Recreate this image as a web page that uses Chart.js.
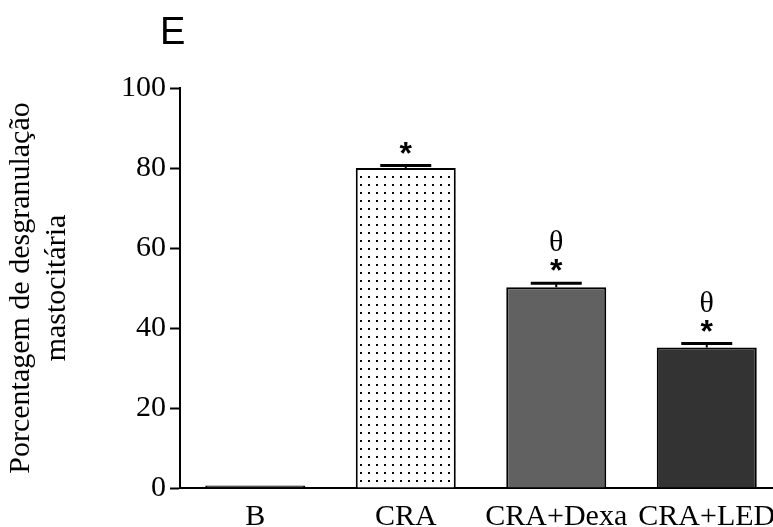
<!DOCTYPE html>
<html>
<head>
<meta charset="utf-8">
<script src="https://cdn.jsdelivr.net/npm/chart.js@4/dist/chart.umd.min.js"></script>
<style>
  html, body { margin: 0; padding: 0; background: #fff; overflow: hidden; }
  #wrap { width: 773px; height: 527px; overflow: hidden; position: relative; }
  canvas { display: block; }
</style>
</head>
<body>
<div id="wrap"><canvas id="c" width="792" height="527"></canvas></div>
<script>
// ---- data ----
const categories = ['B', 'CRA', 'CRA+Dexa', 'CRA+LED'];
const values = [0.6, 80, 50.2, 35.1];
const errors = [0, 0.6, 1.0, 1.0];
const stars = ['', '*', '*', '*'];
const thetas = ['', '', 'θ', 'θ'];
const yTicks = [0, 20, 40, 60, 80, 100];
const panelLabel = 'E';
const yTitle = ['Porcentagem de desgranulação', 'mastocitária'];

// dotted pattern for CRA bar
function dotPattern() {
  const p = document.createElement('canvas');
  p.width = 8; p.height = 8;
  const g = p.getContext('2d');
  g.fillStyle = '#ffffff';
  g.fillRect(0, 0, 8, 8);
  g.fillStyle = '#000000';
  g.fillRect(0, 0, 2, 2);
  return document.getElementById('c').getContext('2d').createPattern(p, 'repeat');
}
const fills = ['#333333', dotPattern(), '#616161', '#333333'];

const extras = {
  id: 'extras',
  afterDatasetsDraw(chart) {
    const ctx = chart.ctx;
    const xs = chart.scales.x, ys = chart.scales.y;
    ctx.save();
    ctx.strokeStyle = '#000';
    ctx.fillStyle = '#000';
    for (let i = 0; i < values.length; i++) {
      const x = xs.getPixelForValue(i);
      const yBar = ys.getPixelForValue(values[i]);
      const yTop = ys.getPixelForValue(values[i] + errors[i]);
      if (errors[i] > 0) {
        ctx.lineWidth = 2;
        ctx.beginPath();
        ctx.moveTo(x, yBar);
        ctx.lineTo(x, yTop);
        ctx.stroke();
        ctx.lineWidth = 3;
        ctx.beginPath();
        ctx.moveTo(x - 25.5, yTop);
        ctx.lineTo(x + 25.5, yTop);
        ctx.stroke();
      }
      ctx.textAlign = 'center';
      ctx.textBaseline = 'alphabetic';
      if (stars[i]) {
        ctx.font = 'bold 32px "Liberation Sans", Arial, sans-serif';
        ctx.fillText(stars[i], x, yTop - 2);
      }
      if (thetas[i]) {
        ctx.font = '30px "Liberation Serif", "Times New Roman", serif';
        ctx.fillText(thetas[i], x, yTop - 32);
      }
    }
    // panel label
    ctx.textAlign = 'left';
    ctx.font = '38px "Liberation Sans", Arial, sans-serif';
    ctx.fillText(panelLabel, 160, 44);
    ctx.restore();
  }
};

const serif = { family: '"Liberation Serif", "Times New Roman", serif', size: 30, lineHeight: 1.2 };

new Chart(document.getElementById('c'), {
  type: 'bar',
  data: {
    labels: categories,
    datasets: [{
      data: values,
      backgroundColor: fills,
      borderColor: '#000',
      borderWidth: 2,
      barPercentage: 0.6645,
      categoryPercentage: 1.0
    }]
  },
  options: {
    responsive: false,
    animation: false,
    devicePixelRatio: 1,
    layout: { padding: { top: 88, right: 10, left: 0, bottom: 0 } },
    plugins: { legend: { display: false }, tooltip: { enabled: false }, title: { display: false } },
    scales: {
      x: {
        type: 'category',
        offset: true,
        grid: { display: true, drawOnChartArea: false, drawTicks: false },
        border: { display: true, color: '#000', width: 2 },
        ticks: { color: '#000', font: serif, padding: 11, maxRotation: 0, autoSkip: false },
        afterFit(s) { s.height = 39; }
      },
      y: {
        min: 0, max: 100,
        afterBuildTicks(s) { s.ticks = yTicks.map(v => ({ value: v })); },
        grid: { display: true, drawOnChartArea: false, drawTicks: true, tickLength: 10, tickWidth: 2, tickColor: '#000' },
        border: { display: true, color: '#000', width: 2 },
        ticks: { color: '#000', font: serif, padding: 4 },
        title: { display: true, text: yTitle, color: '#000', font: serif, padding: { top: 3, bottom: 0 } },
        afterFit(s) { s.width = 180; }
      }
    }
  },
  plugins: [extras]
});
</script>
</body>
</html>
